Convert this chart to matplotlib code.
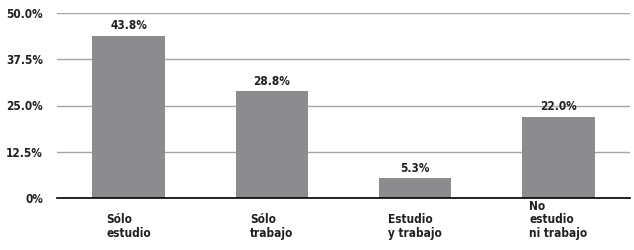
import matplotlib
matplotlib.use('Agg')
import matplotlib.pyplot as plt
import matplotlib.transforms as mtransforms
from matplotlib import font_manager

# Data
categories = ['Sólo\nestudio', 'Sólo\ntrabajo', 'Estudio\ny trabajo', 'No\nestudio\nni trabajo']
values = [43.8, 28.8, 5.3, 22.0]
yticks = [0, 12.5, 25.0, 37.5, 50.0]
ytick_labels = ['0%', '12.5%', '25.0%', '37.5%', '50.0%']

# pick a condensed bold face if one is installed
narrow = None
for f in font_manager.fontManager.ttflist:
    name = f.fname.lower()
    if ('narrow' in name or 'condensed' in name) and 'bold' in name and 'italic' not in name and 'oblique' not in name:
        narrow = font_manager.FontProperties(fname=f.fname, size=8.5)
        break
if narrow is None:
    narrow = font_manager.FontProperties(family='DejaVu Sans', weight='bold', size=7.5)

text_color = '#231f20'

fig = plt.figure(figsize=(6.34, 2.5), dpi=100)
ax = fig.add_axes([57 / 634, 1 - 198 / 250, 573 / 634, 185 / 250])

x = range(len(values))
ax.bar(x, values, width=0.505, color='#8c8c8f', zorder=3)

for xi, v in zip(x, values):
    ax.annotate(f'{v:.1f}%', (xi, v), xytext=(0, 2.5), textcoords='offset points',
                ha='center', va='bottom', fontproperties=narrow, color=text_color)

trans = mtransforms.blended_transform_factory(ax.transData, ax.transAxes)
for xi, lab in zip(x, categories):
    ax.text(xi, -0.225, lab, transform=trans, ha='center', va='bottom',
            multialignment='left', fontproperties=narrow,
            color=text_color, linespacing=1.05)

ax.set_xlim(-0.5, 3.5)
ax.set_ylim(0, 50)
ax.set_yticks(yticks)
ax.set_yticklabels(ytick_labels, fontproperties=narrow, color=text_color)
ax.set_xticks([])
ax.tick_params(axis='y', length=0, pad=10)
ax.yaxis.grid(True, color='#a6a6a6', linewidth=1.0, zorder=0)
ax.set_axisbelow(True)

for s in ['top', 'right', 'left']:
    ax.spines[s].set_visible(False)
ax.spines['bottom'].set_color('black')
ax.spines['bottom'].set_linewidth(1.2)
ax.spines['bottom'].set_zorder(4)

fig.savefig('out.png', dpi=100)
